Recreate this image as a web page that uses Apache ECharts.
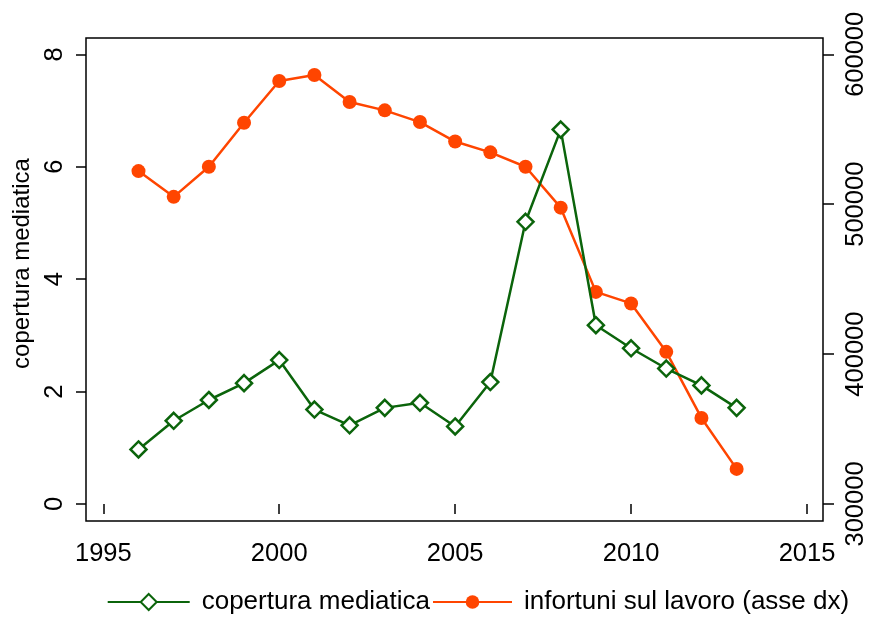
<!DOCTYPE html>
<html>
<head>
<meta charset="utf-8">
<script src="https://cdn.jsdelivr.net/npm/echarts@6/dist/echarts.min.js"></script>
<style>
html,body{margin:0;padding:0;background:#fff;}
#c{width:870px;height:617px;}
</style>
</head>
<body>
<div id="c"></div>
<script>
// ---- data ----
var years = [1996,1997,1998,1999,2000,2001,2002,2003,2004,2005,2006,2007,2008,2009,2010,2011,2012,2013];
var copertura = [0.97,1.48,1.85,2.15,2.56,1.68,1.40,1.71,1.80,1.38,2.17,5.02,6.66,3.18,2.77,2.41,2.11,1.71];
var infortuni = [522100,504900,525000,554300,582200,586200,568200,562600,554800,541800,534600,525000,497700,441500,433800,401500,357400,323400];
var xTicks = [1995,2000,2005,2010,2015];
var leftTicks = [0,2,4,6,8];
var rightTicks = [300000,400000,500000,600000];
var seriesNames = ['copertura mediatica','infortuni sul lavoro (asse dx)'];
var leftAxisName = 'copertura mediatica';

var GREEN = '#0b640b';
var ORANGE = '#ff4500';
var FONT = '"Liberation Sans", Arial, sans-serif';

function pairs(xs, ys){ return xs.map(function(x,i){ return [x, ys[i]]; }); }
function plain(v){ return String(v); }

var chart = echarts.init(document.getElementById('c'), null, {renderer:'canvas'});
chart.setOption({
  animation:false,
  backgroundColor:'#fff',
  textStyle:{fontFamily:FONT},
  grid:{left:86, top:38, width:737, height:483, show:true, borderColor:'#000', borderWidth:1.5, backgroundColor:'transparent', containLabel:false},
  legend:[
    {data:[seriesNames[0]], left:106.7, top:589, padding:0, itemWidth:82, itemHeight:20,
     textStyle:{fontSize:26, color:'#000', fontFamily:FONT, padding:[0,0,0,7]}, selectedMode:false},
    {data:[seriesNames[1]], left:432, top:589, padding:0, itemWidth:79, itemHeight:17,
     textStyle:{fontSize:26, color:'#000', fontFamily:FONT, padding:[0,0,0,7]}, selectedMode:false}
  ],
  xAxis:{
    type:'value', min:1994.508, max:2015.455,
    axisLine:{show:false},
    splitLine:{show:false},
    axisTick:{show:true, length:10, lineStyle:{color:'#000', width:1.5}, customValues:xTicks},
    axisLabel:{customValues:xTicks, formatter:plain, fontSize:25.5, color:'#000', margin:20, fontFamily:FONT}
  },
  yAxis:[
    {type:'value', position:'left', min:-0.3026, max:8.290,
     name:leftAxisName, nameLocation:'middle', nameGap:41,
     nameTextStyle:{fontSize:24, color:'#000', fontFamily:FONT, padding:[0,0,0,32]},
     axisLine:{show:false}, splitLine:{show:false},
     axisTick:{show:true, length:10, lineStyle:{color:'#000', width:1.5}, customValues:leftTicks},
     axisLabel:{customValues:leftTicks, formatter:plain, rotate:90, fontSize:25.5, color:'#000', margin:18, fontFamily:FONT}
    },
    {type:'value', position:'right', min:288651, max:610881,
     axisLine:{show:false}, splitLine:{show:false},
     axisTick:{show:true, length:11, lineStyle:{color:'#000', width:1.5}, customValues:rightTicks},
     axisLabel:{customValues:rightTicks, formatter:plain, rotate:90, fontSize:25.5, color:'#000', margin:20, fontFamily:FONT}
    }
  ],
  series:[
    {name:seriesNames[0], type:'line', yAxisIndex:0, data:pairs(years, copertura),
     symbol:'diamond', symbolSize:16, showAllSymbol:true,
     lineStyle:{color:GREEN, width:2.5},
     itemStyle:{color:'#fff', borderColor:GREEN, borderWidth:2.5},
     emphasis:{disabled:true}, z:3},
    {name:seriesNames[1], type:'line', yAxisIndex:1, data:pairs(years, infortuni),
     symbol:'circle', symbolSize:14, showAllSymbol:true,
     lineStyle:{color:ORANGE, width:2.5},
     itemStyle:{color:ORANGE, borderWidth:0},
     emphasis:{disabled:true}, z:2}
  ]
});
</script>
</body>
</html>
